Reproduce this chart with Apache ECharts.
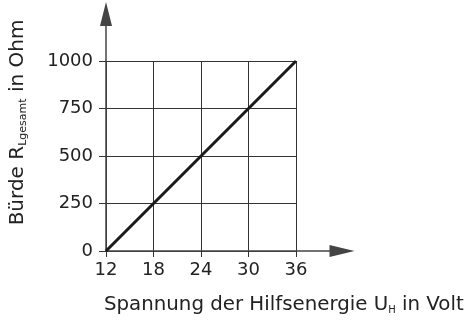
<!DOCTYPE html>
<html>
<head>
<meta charset="utf-8">
<script src="https://cdn.jsdelivr.net/npm/echarts@6/dist/echarts.min.js"></script>
<style>
html, body { margin: 0; padding: 0; background: #fff; }
#chart { width: 471px; height: 321px; }
</style>
</head>
<body>
<div id="chart"></div>
<script>
// Spannung der Hilfsenergie (V) und zulässige Bürde (Ohm)
var voltage = [12, 18, 24, 30, 36];
var burden = [0, 250, 500, 750, 1000];
var xTicks = [12, 18, 24, 30, 36];
var yTicks = [0, 250, 500, 750, 1000];

var font = 'DejaVu Sans, sans-serif';
var textColor = '#222';

var option = {
    animation: false,
    backgroundColor: '#fff',
    title: [{
        text: 'Spannung der Hilfsenergie U{sub|H} in Volt',
        left: 99,
        top: 289,
        textStyle: {
            fontFamily: font,
            fontSize: 19.8,
            fontWeight: 'normal',
            color: textColor,
            rich: {
                sub: { fontFamily: font, fontSize: 10, color: textColor, padding: [11, 0, 0, 0] }
            }
        }
    }],
    grid: [
        // inneres Raster 12..36 / 0..1000
        { left: 106, right: 175, top: 61, bottom: 70, outerBoundsMode: 'none' },
        // Achsen mit Pfeilen
        { left: 106, right: 129, top: 14, bottom: 70, outerBoundsMode: 'none' }
    ],
    xAxis: [{
        gridIndex: 0,
        type: 'value',
        min: 12,
        max: 36,
        interval: 6,
        axisLine: { show: false },
        axisTick: { show: true, length: 6, lineStyle: { color: '#333', width: 1 } },
        axisLabel: {
            margin: 10,
            fontFamily: font,
            fontSize: 18,
            color: textColor,
            customValues: xTicks,
            formatter: function (v) { return String(v); }
        },
        splitLine: { show: true, lineStyle: { color: '#333', width: 1 } }
    }, {
        gridIndex: 1,
        type: 'value',
        min: 0,
        max: 1,
        axisLine: {
            show: true,
            symbol: ['none', 'triangle'],
            symbolSize: [12, 25],
            lineStyle: { color: '#444', width: 1.5 }
        },
        axisTick: { show: false },
        axisLabel: { show: false },
        splitLine: { show: false }
    }],
    yAxis: [{
        gridIndex: 0,
        type: 'value',
        min: 0,
        max: 1000,
        interval: 250,
        axisLine: { show: false },
        axisTick: { show: true, length: 7, lineStyle: { color: '#333', width: 1 } },
        axisLabel: {
            margin: 13,
            fontFamily: font,
            fontSize: 18,
            color: textColor,
            customValues: yTicks,
            formatter: function (v) { return String(v); }
        },
        splitLine: { show: true, lineStyle: { color: '#333', width: 1 } }
    }, {
        gridIndex: 1,
        type: 'value',
        min: 0,
        max: 1,
        name: 'Bürde R{sub|Lgesamt} in Ohm',
        nameLocation: 'middle',
        nameGap: 77,
        nameTextStyle: {
            fontFamily: font,
            fontSize: 20,
            color: textColor,
            padding: [0, 0, 0, 20],
            rich: {
                sub: { fontFamily: font, fontSize: 11, color: textColor, padding: [12, 0, 0, 0] }
            }
        },
        axisLine: {
            show: true,
            symbol: ['none', 'triangle'],
            symbolSize: [12, 24],
            lineStyle: { color: '#444', width: 1.5 }
        },
        axisTick: { show: false },
        axisLabel: { show: false },
        splitLine: { show: false }
    }],
    series: [{
        type: 'line',
        xAxisIndex: 0,
        yAxisIndex: 0,
        symbol: 'none',
        lineStyle: { color: '#1a1a1a', width: 3 },
        data: voltage.map(function (v, i) {
            return [v, burden[i]];
        })
    }]
};

var myChart = echarts.init(document.getElementById('chart'));
myChart.setOption(option);
</script>
</body>
</html>
